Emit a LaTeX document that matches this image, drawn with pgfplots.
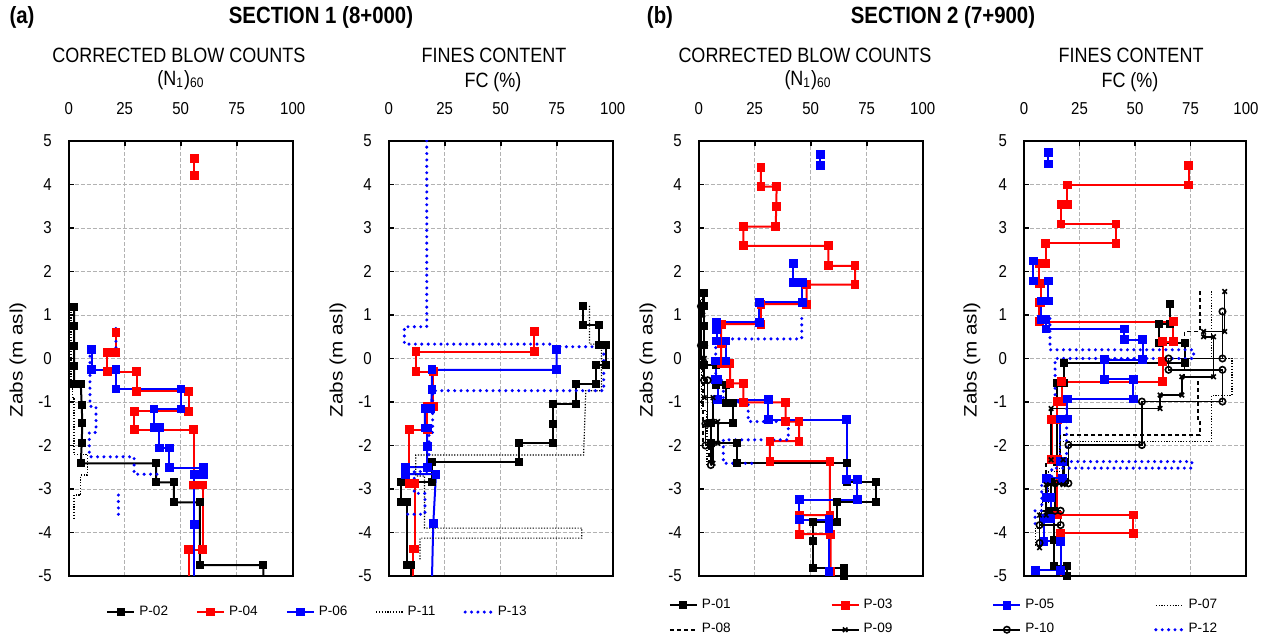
\documentclass[border=0pt]{standalone}
\usepackage{fontspec}
\setmainfont{Liberation Sans}
\usepackage{pgfplots}
\pgfplotsset{compat=1.18}

\definecolor{pred}{RGB}{255,0,0}
\definecolor{pblue}{RGB}{0,0,255}

\newcommand\tfont{\fontsize{9}{11}\selectfont}
\newcommand\sfont{\bfseries\fontsize{10.2}{12}\selectfont}

\pgfplotsset{
  panel/.style={
    scale only axis, width=112pt, height=217.5pt,
    xmin=0, xmax=100, ymin=-5, ymax=5,
    xtick={0,25,50,75,100}, ytick={-5,-4,...,5},
    xtick pos=right, xticklabel pos=right,
    ytick pos=left, yticklabel pos=left,
    tick align=inside,
    major tick length=2.5pt,
    tick style={black, line width=0.9pt},
    axis line style={line width=1pt},
    grid=major,
    major grid style={gray!60, dash pattern=on 2pt off 1pt, line width=0.4pt},
    unbounded coords=jump,
    /pgf/number format/assume math mode=true,
    tick label style={font=\fontsize{7.5}{9}\selectfont},
    xticklabel style={yshift=9pt, yscale=1.15},
    yticklabel style={xshift=-5pt, yscale=1.15},
    legend image code/.code={\draw[mark repeat=2,mark phase=2,#1] plot coordinates {(0pt,0pt) (6.75pt,0pt) (13.5pt,0pt)};},
  },
  sqk/.style={black, line width=1pt, mark=square*, mark size=1.5pt, mark options={solid}},
  sqr/.style={pred, line width=1pt, mark=square*, mark size=1.7pt, mark options={solid}},
  sqb/.style={pblue, line width=1pt, mark=square*, mark size=1.7pt, mark options={solid}},
  dotk/.style={black, line width=0.6pt, dash pattern=on 0.6pt off 0.8pt, no marks},
  dotb/.style={pblue, line width=1.7pt, line cap=round, dash pattern=on 0pt off 3.2pt, no marks},
  dashk/.style={black, line width=0.8pt, dash pattern=on 2pt off 1.5pt, no marks},
  xk/.style={black, line width=0.8pt, mark=x, mark size=1.6pt, mark options={solid}},
  ok/.style={black, line width=0.8pt, mark=o, mark size=1.6pt, mark options={solid, fill=white}},
}

\begin{document}
\begin{tikzpicture}

% ---------------- Section 1: (N1)60
\begin{axis}[panel, at={(34.35pt,32.5pt)}, anchor=south west,
  legend columns=5,
  legend style={draw=none, fill=none, at={(1.115,-0.083)}, anchor=center,
    font=\fontsize{6.8}{8}\selectfont,
    /tikz/every even column/.append style={column sep=12pt}}]
\addplot[sqk] coordinates {(2.4,1.19)(2.4,0.75)(2.4,0.29)(2.4,-0.17)(2.4,-0.59)(5.4,-0.59)(5.8,-1.07)(6.1,-1.49)(5.8,-1.95)(5.4,-2.41)(39,-2.41)(39,-2.85)(47,-2.85)(47,-3.31)(58.6,-3.31)(58.6,-4.75)(86.9,-4.75)(86.9,-5.3)};
\addplot[sqr] coordinates {(56,4.6)(56,4.2)(nan,nan)(21.1,0.6)(21.1,0.14)(17.2,0.14)(17.2,-0.30)(30.4,-0.30)(30.4,-0.75)(53.6,-0.75)(53.6,-1.21)(29.2,-1.21)(29.2,-1.64)(55.8,-1.64)(55.8,-2.91)(59.8,-2.91)(59.8,-4.40)(53.6,-4.40)(53.6,-5.3)};
\addplot[sqb] coordinates {(10.3,0.2)(10.3,-0.26)(21.1,-0.26)(21.1,-0.70)(50.1,-0.70)(50.1,-1.16)(38.1,-1.16)(38.1,-1.59)(40.5,-1.59)(40.5,-2.06)(44.9,-2.06)(44.9,-2.51)(60.1,-2.51)(60.1,-2.66)(56.1,-2.66)(56.1,-3.81)(56.1,-5.3)};
\addplot[dotk] coordinates {(1,1.2)(1,-0.6)(1.8,-0.6)(1.8,-0.9)(2.4,-0.9)(2.4,-2.2)(8.3,-2.2)(8.3,-2.68)(5.4,-2.68)(5.4,-3.14)(2.4,-3.14)(2.4,-3.67)};
\addplot[dotb] coordinates {(21.1,0.69)(21.1,0.14)(nan,nan)(9.5,0.2)(9.5,-1.1)(12.2,-1.1)(12.2,-1.7)(9.2,-1.7)(9.2,-2.26)(29.2,-2.26)(29.2,-2.66)(40.5,-2.66)(nan,nan)(22.2,-3.14)(22.2,-3.6)};
\legend{P-02,P-04,P-06,P-11,P-13}
\end{axis}

% ---------------- Section 1: FC
\begin{axis}[panel, at={(194.35pt,32.5pt)}, anchor=south west]
\addplot[sqk] coordinates {(86.9,1.21)(86.9,0.77)(93.9,0.77)(93.9,0.31)(96.9,0.31)(96.9,-0.15)(92.5,-0.15)(92.5,-0.59)(83.5,-0.59)(83.5,-1.05)(73.5,-1.05)(73.5,-1.51)(73.5,-1.95)(58.2,-1.95)(58.2,-2.39)(19.2,-2.39)(19.2,-2.85)(5.4,-2.85)(5.4,-3.29)(8.0,-3.29)(8.0,-4.75)(10,-4.75)(10,-5.3)};
\addplot[sqr] coordinates {(65,0.62)(65,0.16)(12.2,0.16)(12.2,-0.30)(19.9,-0.30)(19.9,-1.1)(17.2,-1.1)(17.2,-1.64)(9.2,-1.64)(9.2,-2.87)(11.7,-2.87)(11.7,-4.38)(11,-4.38)(11,-5.3)};
\addplot[sqb] coordinates {(75,0.2)(75,-0.26)(19.3,-0.26)(19.3,-0.72)(18.9,-1.15)(16.2,-1.15)(16.2,-1.6)(17.2,-1.6)(17.2,-2.03)(17.2,-2.5)(7.6,-2.5)(7.6,-2.66)(21.1,-2.66)(19.9,-3.8)(19.2,-5.3)};
\addplot[dotk] coordinates {(89.6,1.21)(89.6,0.33)(95,0.33)(95,-0.74)(88,-0.74)(87,-2.22)(12.1,-2.22)(12.1,-2.7)(16,-2.7)(16,-3.9)(86.2,-3.9)(86.2,-4.13)(14,-4.13)(14,-4.63)};
\addplot[dotb] coordinates {(17,5.3)(17,0.73)(7,0.73)(7,0.33)(73.5,0.33)(73.5,0.27)(96,0.27)(96,-0.74)(19.6,-0.74)(19.6,-1.7)(18,-1.7)(18,-2.6)(11.4,-2.6)(11.4,-3.1)(16.2,-3.1)(16.2,-3.58)(8,-3.58)};
\end{axis}

% ---------------- Section 2: (N1)60
\begin{axis}[panel, at={(349.35pt,32.5pt)}, anchor=south west,
  legend columns=4,
  legend style={draw=none, fill=none, at={(1.1,-0.0954)}, anchor=center,
    font=\fontsize{6.8}{8}\selectfont, row sep=2pt,
    /tikz/every even column/.append style={column sep=48pt}}]
\addplot[sqk] coordinates {(2.4,1.5)(2.4,1.21)(2.4,0.75)(2.4,0.3)(2.4,-0.15)(7.6,-0.15)(7.6,-0.61)(12.2,-0.61)(12.2,-1.03)(15.2,-1.03)(15.2,-1.49)(5.4,-1.49)(5.4,-1.95)(17,-1.95)(17,-2.41)(66.1,-2.41)(66.1,-2.85)(79,-2.85)(79,-3.31)(61.9,-3.31)(61.9,-3.75)(51.2,-3.75)(51.2,-4.2)(51.2,-4.81)(65,-4.81)(65,-5.0)};
\addplot[sqr] coordinates {(27.8,4.39)(27.8,3.95)(34.8,3.95)(34.6,3.49)(34.4,3.03)(19.9,3.03)(19.9,2.59)(57.9,2.59)(57.9,2.13)(69.8,2.13)(69.8,1.70)(48.2,1.70)(48.2,1.25)(27.8,1.25)(27.8,0.79)(10,0.79)(10,0.35)(10,-0.11)(14,-0.11)(14,-0.57)(19.9,-0.57)(19.9,-1.01)(38.8,-1.01)(38.8,-1.45)(44.8,-1.45)(44.8,-1.90)(31.8,-1.90)(31.8,-2.36)(58.6,-2.36)(58.6,-3.60)(44.9,-3.60)(44.9,-4.04)(58.9,-4.04)(58.9,-4.9)};
\addplot[sqb] coordinates {(54.2,4.69)(54.2,4.43)(nan,nan)(42.2,2.19)(42.2,1.74)(46.3,1.74)(46.3,1.29)(27.1,1.29)(27.1,0.83)(8.0,0.83)(8.0,0.66)(8.0,0.40)(12.2,0.40)(12.2,-0.06)(7.6,-0.06)(7.6,-0.49)(8.4,-0.49)(8.4,-0.95)(31.1,-0.95)(31.1,-1.41)(66.1,-1.41)(66.1,-2.79)(70.8,-2.79)(70.8,-3.25)(44.9,-3.25)(44.9,-3.71)(58.2,-3.71)(58.2,-3.9)(58.2,-4.90)(58.2,-5.3)};
\addplot[dotk] coordinates {(1.2,1.5)(1.2,-1.2)(3.7,-1.2)(3.7,-2.45)};
\addplot[dashk] coordinates {(0.8,1.5)(0.8,-0.2)(2.0,-0.2)(2.0,-1.9)(4.5,-1.9)(4.5,-2.4)};
\addplot[xk] coordinates {(1.8,1.5)(1.8,1.0)(1.0,1.0)(1.0,0.0)(2.5,0.0)(2.5,-0.9)(6.4,-0.9)(6.4,-1.45)(8.5,-1.45)(8.5,-1.95)(6.4,-1.95)(6.4,-2.41)};
\addplot[ok] coordinates {(1.0,1.2)(1.0,0.3)(2.4,0.3)(2.4,-0.5)(4.0,-0.5)(4.0,-1.5)(3.0,-1.5)(3.0,-2.0)(5.4,-2.0)(5.4,-2.45)};
\addplot[dotb] coordinates {(46,0.92)(46,0.45)(7.6,0.45)(7.6,-0.5)(11,-0.5)(11,-1.0)(22.1,-1.0)(22.1,-1.45)(40,-1.45)(40,-1.87)(11,-1.87)(11,-2.41)(25.1,-2.41)};
\legend{P-01,P-03,P-05,P-07,P-08,P-09,P-10,P-12}
\end{axis}

% ---------------- Section 2: FC
\begin{axis}[panel, width=111pt, at={(512pt,32.5pt)}, anchor=south west]
\addplot[sqk] coordinates {(65.9,1.25)(65.9,0.79)(60.9,0.79)(60.9,0.35)(72.3,0.35)(72.3,-0.11)(18.2,-0.11)(18.2,-0.57)(14.7,-0.57)(14.7,-0.99)(14.7,-2.37)(18,-2.37)(18,-2.85)(12,-2.85)(12,-3.5)(13.7,-3.5)(13.7,-4.17)(13.7,-4.77)(19.3,-4.77)(19.3,-5.0)};
\addplot[sqr] coordinates {(74.1,4.43)(74.1,3.99)(19.5,3.99)(19.5,3.54)(16.7,3.54)(16.7,3.09)(41.4,3.09)(41.4,2.65)(9.8,2.65)(9.8,2.19)(6.8,2.19)(6.8,1.73)(7.5,1.73)(7.5,1.29)(6.8,1.29)(6.8,0.85)(67.3,0.85)(67.3,0.39)(62.4,0.39)(62.4,-0.07)(62.4,-0.53)(17,-0.53)(17,-0.99)(15,-0.99)(15,-1.41)(12.5,-1.41)(12.5,-2.33)(15,-2.33)(15,-3.6)(49.3,-3.6)(49.3,-4.02)(16.5,-4.02)(16.5,-5.3)};
\addplot[sqb] coordinates {(11,4.73)(11,4.47)(nan,nan)(4.2,2.24)(4.2,1.78)(11,1.78)(11,1.32)(7.7,1.32)(7.7,0.89)(9.9,0.89)(9.9,0.68)(45.2,0.68)(45.2,0.43)(53.4,0.43)(53.4,-0.03)(36.1,-0.03)(36.1,-0.48)(49.3,-0.48)(49.3,-0.93)(19.5,-0.93)(19.5,-1.39)(16.4,-1.39)(16.4,-2.37)(17.5,-2.37)(17.5,-2.75)(10.2,-2.75)(10.2,-3.2)(12,-3.2)(12,-3.67)(9,-3.67)(9,-4.2)(16.5,-4.2)(16.5,-4.87)(5,-4.87)};
\addplot[dotk] coordinates {(84.4,1.54)(84.4,0.0)(93.7,0.0)(93.7,-0.85)(84.5,-0.85)(84.5,-1.91)(16,-1.91)(16,-2.6)(11,-2.6)(11,-3.3)(8,-3.3)(8,-3.9)(5,-3.9)(5,-4.3)};
\addplot[dashk] coordinates {(79.4,1.54)(79.4,0.62)(72.3,0.62)(72.3,-0.43)(78.3,-0.43)(78.3,-1.45)(79.4,-1.45)(79.4,-1.76)(16.5,-1.76)(16.5,-2.4)(10,-2.4)(10,-3.5)(7,-3.5)(7,-4.3)};
\addplot[xk] coordinates {(90.4,1.54)(90.4,0.62)(80.9,0.62)(80.9,0.5)(85.4,0.5)(85.4,-0.42)(71.1,-0.42)(71.1,-0.84)(61.3,-0.84)(61.3,-1.15)(12.2,-1.15)(12.2,-2.33)(17.6,-2.33)(17.6,-2.9)(10,-2.9)(10,-3.6)(7,-3.6)(7,-4.35)};
\addplot[ok] coordinates {(89.4,1.08)(89.4,0.0)(65.1,0.0)(65.1,-0.26)(89.4,-0.26)(89.4,-0.99)(53.1,-0.99)(53.1,-1.99)(20,-1.99)(20,-2.87)(14,-2.87)(14,-3.5)(16.5,-3.5)(16.5,-3.83)(7,-3.83)(7,-4.24)};
\addplot[dotb] coordinates {(11.7,0.92)(11.7,0.2)(76.4,0.2)(76.4,0.0)(14,0.0)(14,-1.03)(19.2,-1.03)(19.2,-2.37)(75.6,-2.37)(75.6,-2.52)(12.5,-2.52)(12.5,-2.9)(8,-2.9)(8,-3.5)(5,-3.5)(5,-3.9)};
\end{axis}

% ---------------- titles and labels
\node[yscale=1.15, font=\sfont] at (11pt,311.75pt) {(a)};
\node[yscale=1.15, font=\sfont] at (160.5pt,311.75pt) {SECTION 1 (8+000)};
\node[yscale=1.15, font=\sfont] at (330pt,311.75pt) {(b)};
\node[yscale=1.15, font=\sfont] at (471.5pt,311.75pt) {SECTION 2 (7+900)};

\node[yscale=1.15, font=\tfont] at (89.5pt,292.75pt) {CORRECTED BLOW COUNTS};
\node[yscale=1.15, font=\tfont] at (90.5pt,280.5pt) {(N\textsubscript{1})\textsubscript{60}};
\node[yscale=1.15, font=\tfont] at (247pt,292.75pt) {FINES CONTENT};
\node[yscale=1.15, font=\tfont] at (246.5pt,279.25pt) {FC (\%)};
\node[yscale=1.15, font=\tfont] at (402.5pt,292.75pt) {CORRECTED BLOW COUNTS};
\node[yscale=1.15, font=\tfont] at (404pt,280.5pt) {(N\textsubscript{1})\textsubscript{60}};
\node[yscale=1.15, font=\tfont] at (565.5pt,292.75pt) {FINES CONTENT};
\node[yscale=1.15, font=\tfont] at (565pt,279.25pt) {FC (\%)};

\foreach \xx in {9pt,169pt,324pt,486pt}
  \node[yscale=1.15, rotate=90, font=\tfont] at (\xx,140.5pt) {Zabs (m asl)};

\pgfresetboundingbox
\path[use as bounding box] (0,0) rectangle (635pt,320.5pt);
\end{tikzpicture}
\end{document}
